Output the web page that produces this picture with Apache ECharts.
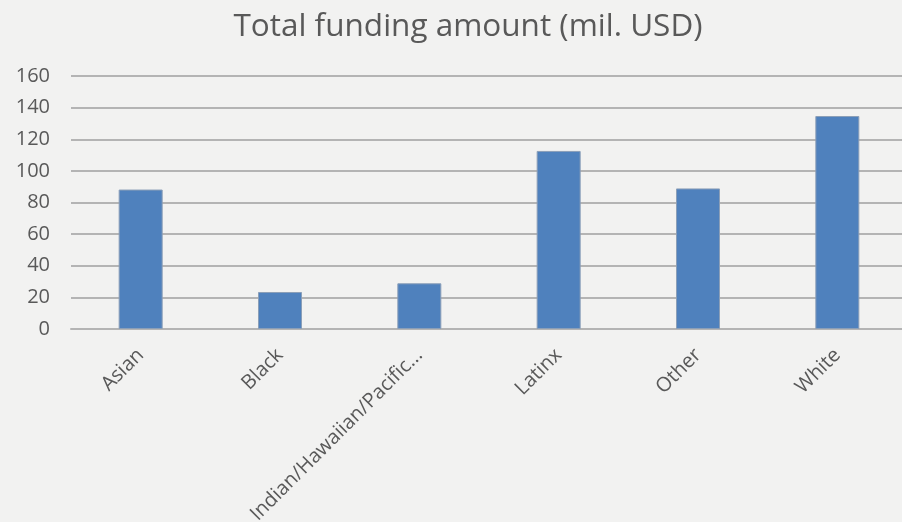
<!DOCTYPE html>
<html>
<head>
<meta charset="utf-8">
<script src="https://cdn.jsdelivr.net/npm/echarts@6/dist/echarts.min.js"></script>
<style>
  html, body { margin: 0; padding: 0; background: #f2f2f1; }
  #chart { width: 902px; height: 522px; }
</style>
</head>
<body>
<div id="chart"></div>
<script>
// Funding totals by founder group, in millions of USD
const categories = ['Asian', 'Black', 'Indian/Hawaiian/Pacific...', 'Latinx', 'Other', 'White'];
const fundingValues = [88.2, 23.4, 28.9, 112.6, 88.9, 134.7];
const yTicks = { min: 0, max: 160, interval: 20 };

const chart = echarts.init(document.getElementById('chart'));
chart.setOption({
  backgroundColor: '#f2f2f1',
  animation: false,
  title: {
    text: 'Total funding amount (mil. USD)',
    left: 463,
    top: 6,
    textAlign: 'center',
    textStyle: {
      fontFamily: 'Open Sans',
      fontSize: 31.5,
      fontWeight: 'normal',
      color: '#595959'
    }
  },
  grid: {
    left: 71, top: 76, width: 836, height: 253,
    containLabel: false,
    outerBoundsMode: 'none'
  },
  xAxis: {
    type: 'category',
    data: categories,
    axisTick: { show: false },
    axisLine: { lineStyle: { color: '#b4b4b4', width: 2 } },
    axisLabel: {
      rotate: 45,
      margin: 23,
      interval: 0,
      color: '#595959',
      fontFamily: 'Open Sans',
      fontSize: 20
    }
  },
  yAxis: {
    type: 'value',
    min: yTicks.min,
    max: yTicks.max,
    interval: yTicks.interval,
    axisLine: { show: false },
    axisTick: { show: false },
    axisLabel: {
      margin: 21,
      color: '#595959',
      fontFamily: 'Open Sans',
      fontSize: 20
    },
    splitLine: { lineStyle: { color: '#b4b4b4', width: 2 } }
  },
  series: [{
    type: 'bar',
    data: fundingValues,
    barWidth: 44,
    itemStyle: { color: '#4f81bd', borderColor: '#8b9fb8', borderWidth: 1 }
  }]
});
</script>
</body>
</html>
